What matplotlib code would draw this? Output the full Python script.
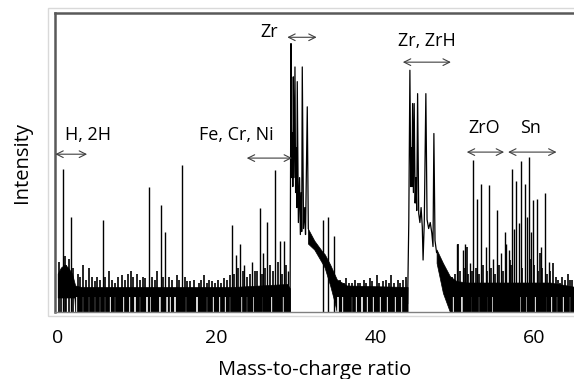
import numpy as np
import matplotlib
matplotlib.use("Agg")
import matplotlib.pyplot as plt
from matplotlib.patches import Rectangle

plt.rcParams['font.family'] = ['Open Sans', 'DejaVu Sans']

# noise floor envelope (three pieces, broken under the Zr clusters)
band1_mz = [0.0, 0.4, 0.9, 1.3, 1.8, 2.1, 2.2, 3.0, 22.0, 28.9, 29.25]
band1_lo = [5, 5, 5, 5, 5, 5, 0, 0, 0, 0, 0]
band1_hi = [13, 15, 16, 15, 13, 10, 9, 8.5, 8.5, 9.5, 8]

band2_mz = [31.5, 32.3, 33.4, 33.6, 34.3, 34.8, 35.15, 36.4, 44.05]
band2_lo = [23, 21, 16, 15, 9, 4, 0, 0, 0]
band2_hi = [28, 24, 20, 19.5, 16, 13, 11, 9, 8.5]

band3_mz = [47.7, 48.5, 49.4, 50.2, 51.5, 62.0, 65.2]
band3_lo = [16.5, 6.5, 0, 0, 0, 0, 0]
band3_hi = [21, 16.5, 12, 10.5, 10, 10, 8.5]

# places where the floor does not drop to zero (white stripes)
gap_mz = [2.4, 3.2, 4.0, 4.7, 5.3, 6.0, 6.6, 7.2, 8.3, 9.1, 9.75, 10.4, 11.2,
          11.6, 12.9, 13.7, 14.2, 14.8, 16.1, 17.5, 18.8, 19.6, 20.4, 21.0,
          21.7, 23.2, 23.8, 24.6, 25.9, 27.0, 28.4, 35.3, 35.95, 37.0, 37.6,
          38.3, 38.9, 39.7, 40.6, 41.4, 42.45, 43.3, 49.8, 50.85, 52.0, 53.1,
          54.0, 54.8, 56.5, 58.2, 59.0, 60.1, 61.5, 62.2, 62.8, 63.6, 64.5]

# small noise spikes
tip_mz = [0.2, 0.4, 0.9, 1.1, 1.4, 1.9,
          2.5, 2.8, 3.17, 3.5, 4.0, 4.3, 4.7, 5.0, 5.3, 6.0, 6.5, 6.8, 7.2,
          7.6, 8.1, 8.5, 8.8, 9.2, 9.5, 10.0, 10.3, 10.7, 11.0, 11.9, 12.2,
          12.5, 13.3, 14.0, 14.4, 15.0, 15.3, 16.0, 16.3, 16.7, 17.1, 17.8,
          18.1, 18.4, 18.8, 19.1, 19.4, 19.8, 20.2, 20.6, 20.9, 21.3, 21.7,
          22.2, 22.7, 23.3, 23.8, 24.2, 24.8, 25.1, 25.7, 26.1, 26.7, 27.1,
          27.7, 28.2, 28.7,
          35.6, 36.0, 36.3, 36.7, 37.0, 37.4, 37.8, 38.05, 38.5, 38.8, 39.3,
          39.6, 40.15, 40.5, 41.0, 41.3, 41.7, 42.0, 42.3, 42.8, 43.1, 43.5,
          43.8,
          49.6, 50.0, 50.4, 50.7, 51.1, 51.5, 51.7, 52.1, 52.6, 53.1, 53.6,
          54.1, 54.6, 55.1, 55.6, 56.0, 56.9, 57.1, 58.5, 59.45, 60.0, 60.5,
          60.7, 61.0, 61.6, 62.0, 62.4, 62.7, 63.0, 63.2, 63.5, 63.9, 64.25,
          64.5, 64.8]
tip_int = [17, 14, 19, 16, 18, 15,
           13, 12, 16, 11, 15, 12, 10.5, 12, 11, 12, 14, 11, 10,
           12, 12.5, 11, 13, 14, 12, 13, 11, 12, 11.5, 12, 11,
           13.8, 12, 12, 11, 12.5, 11, 12, 10.5, 10.5, 11, 10,
           11, 12.5, 10, 11, 10.5, 10, 11, 10, 11.5, 11, 12.5,
           13, 15, 14, 12, 13, 14, 14, 13, 15, 16, 14,
           17, 13, 16,
           11, 10, 11.5, 10, 10, 11, 10, 10, 11, 10, 11.5,
           10.5, 12.5, 10, 10.5, 11, 10, 12.5, 10, 11, 10, 11,
           12,
           12, 13, 23, 14, 15, 22, 13, 14, 15, 13, 16,
           14, 15, 13, 16, 14, 17.5, 16, 15, 18, 16, 14,
           20, 15, 13, 14, 16.5, 12, 11, 10, 12, 11, 13,
           11, 11]

# isolated peaks
peak_mz = [0.65, 1.66, 5.64, 11.5, 13.06, 13.56, 15.6, 22.0, 22.4, 23.0,
           23.5, 24.5, 25.5, 25.9, 26.4, 27.4, 28.0, 28.45, 29.0,
           33.4, 34.0, 34.8, 50.3, 50.97,
           51.3, 51.9, 52.3, 52.8, 53.35, 53.9, 54.3, 54.8, 55.3, 55.8,
           56.3, 56.5, 56.8, 57.25, 57.5, 57.75, 58.05, 58.3, 58.8, 59.05,
           59.3, 59.6, 59.85, 60.3, 60.8, 61.3, 61.8]
peak_int = [47.8, 31.9, 30.8, 41.7, 35.8, 26.9, 49.2, 29.2, 19.2, 23.0,
            15.8, 17.0, 35.0, 20.0, 30.3, 47.5, 24.0, 24.0, 14.0,
            30.8, 32.0, 25.5, 23.0, 20.8,
            23.0, 16.5, 50.8, 38.0, 43.0, 22.0, 42.5, 18.0, 34.2, 20.0,
            27.0, 23.0, 21.0, 48.0, 28.0, 44.0, 30.0, 50.5, 43.0, 32.0,
            52.0, 27.0, 37.5, 38.0, 22.0, 39.8, 17.0]

# Zr cluster trace
zr_mz = [29.25, 29.37, 29.45, 29.55, 29.6, 29.66, 29.75, 29.87, 29.95, 30.05,
         30.1, 30.16, 30.3, 30.45, 30.55, 30.65, 30.72, 30.79, 30.95, 31.1,
         31.2, 31.42, 31.55]
zr_int = [0, 89.7, 45, 60, 42, 78.6, 45, 81.9, 40, 55,
          35, 77, 30, 45, 26, 40, 27, 81.9, 28, 35,
          26, 68.6, 28]

# Zr, ZrH cluster trace
zrh_mz = [44.05, 44.2, 44.34, 44.45, 44.55, 44.6, 44.68, 44.78, 44.88, 45.0,
          45.1, 45.2, 45.31, 45.45, 45.6, 45.75, 45.9, 46.0, 46.15, 46.35,
          46.5, 46.7, 46.9, 47.1, 47.25, 47.36, 47.5, 47.7]
zrh_int = [3, 30, 80.8, 42, 55, 42, 69.7, 40, 69.7, 36.5,
           45, 34, 73, 33, 30, 35, 28.5, 17.5, 30, 73,
           31, 28, 30, 26.5, 22, 59.7, 24, 20]

labels = ["H, 2H", "Fe, Cr, Ni", "Zr", "Zr, ZrH", "ZrO", "Sn"]
label_xy = [(3.84, 59.2), (22.45, 59.2), (26.6, 93.5), (46.45, 90.5),
            (53.65, 61.5), (59.55, 61.5)]
arrow_span = [(-0.3, 3.7, 52.8), (23.8, 29.5, 51.5), (28.9, 32.6, 91.8),
              (43.45, 49.5, 83.5), (51.5, 56.2, 53.5), (56.7, 62.8, 53.5)]

fig = plt.figure(figsize=(5.74, 3.79), dpi=100)
fig.patches.append(Rectangle((0.0836, 0.166), 1.0, 0.8127, transform=fig.transFigure,
                             fill=False, edgecolor='#d9d9d9', lw=1.0))
ax = fig.add_axes([0.095, 0.1755, 0.905, 0.791])

for mz, lo, hi in [(band1_mz, band1_lo, band1_hi),
                   (band2_mz, band2_lo, band2_hi),
                   (band3_mz, band3_lo, band3_hi)]:
    ax.fill_between(mz, lo, hi, color='black', lw=0.5, edgecolor='black')

ax.vlines(gap_mz, 0, 5, color='white', lw=1.2)
ax.vlines(tip_mz, 0, tip_int, color='black', lw=1.2)
ax.vlines(peak_mz, 0, peak_int, color='black', lw=1.0)
ax.plot(zr_mz, zr_int, color='black', lw=0.9)
ax.plot(zrh_mz, zrh_int, color='black', lw=0.9)

for text, (tx, ty) in zip(labels, label_xy):
    ax.text(tx, ty, text, ha='center', va='center', fontsize=13)
for x0, x1, y in arrow_span:
    ax.annotate('', xy=(x0, y), xytext=(x1, y),
                arrowprops=dict(arrowstyle='<->', lw=0.8, color='#404040',
                                shrinkA=0, shrinkB=0, mutation_scale=12))

ax.set_xlim(-0.4, 65.0)
ax.set_ylim(0, 100)
ax.set_xticks([0, 20, 40, 60])
ax.set_yticks([])
ax.tick_params(axis='x', length=0, labelsize=14, pad=12)
ax.set_xlabel("Mass-to-charge ratio", fontsize=14.5, labelpad=9)
ax.set_ylabel("Intensity", fontsize=14.5, labelpad=16)
for s in ['top', 'left']:
    ax.spines[s].set_color('#595959')
    ax.spines[s].set_linewidth(1.8)
ax.spines['bottom'].set_color('#808080')
ax.spines['bottom'].set_linewidth(1.0)
ax.spines['right'].set_visible(False)

fig.savefig("out.png", dpi=100)
